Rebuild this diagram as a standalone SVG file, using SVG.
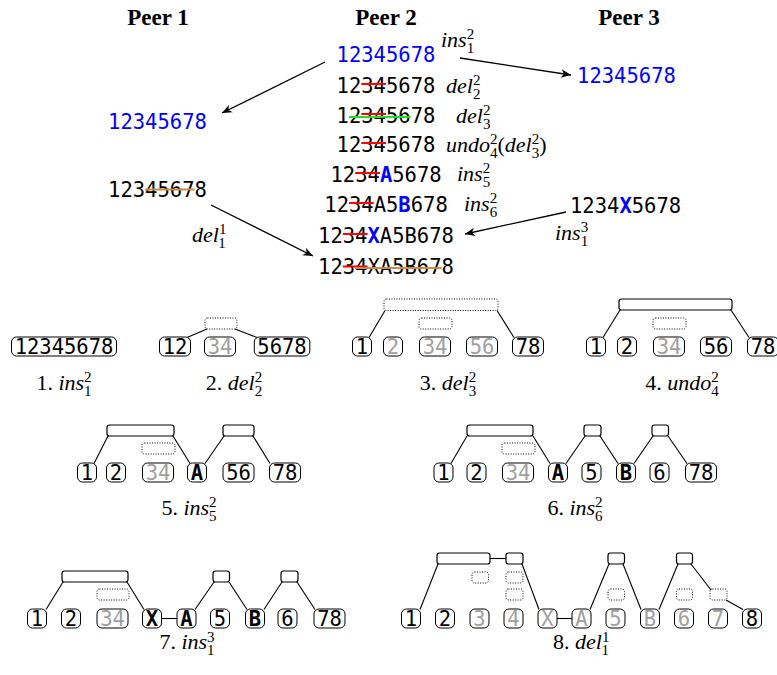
<svg xmlns="http://www.w3.org/2000/svg" width="777" height="675" viewBox="0 0 777 675">
<style>
.hd{font-family:"Liberation Serif","Times New Roman",serif;font-weight:bold;font-size:23px;text-anchor:middle;fill:#000}
.mono{font-family:"DejaVu Sans Mono","Liberation Mono",monospace;font-size:20.5px;fill:#000}
.blue{fill:#0000ff}
.bl{fill:#0000ff;font-weight:bold}
.cap{font-family:"Liberation Serif","Times New Roman",serif;font-size:22px;fill:#000}
.it{font-style:italic}
.sc{font-size:15px;font-style:normal}
.mid{text-anchor:middle}
.red{stroke:#ff0000;stroke-width:2}
.grn{stroke:#22dd22;stroke-width:2}
.brn{stroke:#cc8a48;stroke-width:2.2}
.arr line{stroke:#000;stroke-width:1.3;marker-end:url(#ah)}
.nd rect{fill:#fff;stroke:#000;stroke-width:1}
.nd text{font-family:"DejaVu Sans Mono","Liberation Mono",monospace;font-size:20.5px;text-anchor:middle;fill:#000}
.nd text.g{fill:#a0a0a0}
.nd text.b{font-weight:bold}
.bar{fill:#fff;stroke:#000;stroke-width:1.2}
.dot{fill:none;stroke:#000;stroke-width:1;stroke-dasharray:1 1.5}
.edges line{stroke:#000;stroke-width:1.1}
</style>
<defs>
<marker id="ah" markerUnits="userSpaceOnUse" markerWidth="12" markerHeight="10" viewBox="-11 -5 12 10" refX="0" refY="0" orient="auto">
<path d="M0,0 L-10,-4.2 L-7,0 L-10,4.2 Z" fill="#000"/>
</marker>
</defs>

<!-- headers -->
<g id="headers">
<text class="hd" x="158" y="25">Peer 1</text>
<text class="hd" x="386" y="25">Peer 2</text>
<text class="hd" x="629" y="25">Peer 3</text>
</g>

<!-- Peer 2 history -->
<g id="peer2">
<text class="mono blue" x="336.6" y="62">12345678</text>
<text class="cap it" x="441" y="47">ins<tspan class="sc" dy="-8">2</tspan><tspan class="sc" dx="-7.5" dy="14">1</tspan></text>

<text class="mono" x="336.6" y="93">12345678</text>
<line class="red" x1="361.3" y1="84" x2="386" y2="84"/>
<text class="cap it" x="446" y="93">del<tspan class="sc" dy="-8">2</tspan><tspan class="sc" dx="-7.5" dy="14">2</tspan></text>

<text class="mono" x="336.6" y="123">12345678</text>
<line class="red" x1="361.3" y1="114" x2="386" y2="114"/>
<line class="grn" x1="348.9" y1="117" x2="410.6" y2="117"/>
<text class="cap it" x="456" y="123">del<tspan class="sc" dy="-8">2</tspan><tspan class="sc" dx="-7.5" dy="14">3</tspan></text>

<text class="mono" x="336.6" y="152">12345678</text>
<line class="red" x1="361.3" y1="143" x2="386" y2="143"/>
<text class="cap it" x="446" y="152">undo<tspan class="sc" dy="-8">2</tspan><tspan class="sc" dx="-7.5" dy="14">4</tspan><tspan dy="-6" font-style="normal">(</tspan>del<tspan class="sc" dy="-8">2</tspan><tspan class="sc" dx="-7.5" dy="14">3</tspan><tspan dy="-6" font-style="normal">)</tspan></text>

<text class="mono" x="330.5" y="182">1234<tspan class="bl">A</tspan>5678</text>
<line class="red" x1="355.2" y1="173" x2="379.9" y2="173"/>
<text class="cap it" x="457" y="181">ins<tspan class="sc" dy="-8">2</tspan><tspan class="sc" dx="-7.5" dy="14">5</tspan></text>

<text class="mono" x="324.3" y="212">1234A5<tspan class="bl">B</tspan>678</text>
<line class="red" x1="349" y1="203" x2="373.7" y2="203"/>
<text class="cap it" x="464" y="211">ins<tspan class="sc" dy="-8">2</tspan><tspan class="sc" dx="-7.5" dy="14">6</tspan></text>

<text class="mono" x="318.1" y="243">1234<tspan class="bl">X</tspan>A5B678</text>
<line class="red" x1="342.8" y1="234" x2="367.5" y2="234"/>

<text class="mono" x="318.1" y="274">1234XA5B678</text>
<line class="red" x1="342.8" y1="266.5" x2="367.5" y2="266.5"/>
<line class="brn" x1="355.1" y1="268" x2="441.5" y2="268"/>
</g>

<!-- Peer 1 -->
<g id="peer1">
<text class="mono blue" x="108.1" y="129">12345678</text>
<text class="mono" x="108.1" y="197">12345678</text>
<line class="brn" x1="145.1" y1="189.5" x2="194.5" y2="189.5"/>
<text class="cap it" x="192" y="242">del<tspan class="sc" dy="-8">1</tspan><tspan class="sc" dx="-7.5" dy="14">1</tspan></text>
</g>

<!-- Peer 3 -->
<g id="peer3">
<text class="mono blue" x="577.1" y="83">12345678</text>
<text class="mono" x="570" y="213">1234<tspan class="bl">X</tspan>5678</text>
<text class="cap it" x="555" y="240">ins<tspan class="sc" dy="-8">3</tspan><tspan class="sc" dx="-7.5" dy="14">1</tspan></text>
</g>

<!-- arrows -->
<g id="arrows" class="arr">
<line x1="325" y1="62" x2="222" y2="113"/>
<line x1="460" y1="58" x2="571" y2="75"/>
<line x1="211" y1="205" x2="313" y2="256"/>
<line x1="566" y1="212" x2="465" y2="234"/>
</g>

<!-- tree connectors -->
<g id="edges" class="edges">
<line x1="207" y1="329" x2="187" y2="337.5"/>
<line x1="235" y1="329" x2="257" y2="337.5"/>
<line x1="385" y1="310.5" x2="369" y2="337.5"/>
<line x1="497" y1="310.5" x2="514" y2="337.5"/>
<line x1="620" y1="310" x2="603" y2="337.5"/>
<line x1="731" y1="310" x2="749" y2="337.5"/>
<line x1="108" y1="436" x2="94" y2="463.5"/>
<line x1="173" y1="436" x2="190" y2="463.5"/>
<line x1="224" y1="436" x2="205" y2="463.5"/>
<line x1="253" y1="436" x2="270" y2="463.5"/>
<line x1="467" y1="436" x2="451" y2="463.5"/>
<line x1="533" y1="436" x2="550" y2="463.5"/>
<line x1="585" y1="436" x2="566" y2="463.5"/>
<line x1="600" y1="436" x2="618" y2="463.5"/>
<line x1="653" y1="436" x2="634" y2="463.5"/>
<line x1="668" y1="436" x2="687" y2="463.5"/>
<line x1="63" y1="582" x2="46" y2="609.5"/>
<line x1="127" y1="582" x2="144" y2="609.5"/>
<line x1="214" y1="582" x2="195" y2="609.5"/>
<line x1="229" y1="582" x2="247" y2="609.5"/>
<line x1="282" y1="582" x2="264" y2="609.5"/>
<line x1="297" y1="582" x2="315" y2="609.5"/>
<line x1="161.5" y1="618.5" x2="177" y2="618.5"/>
<line x1="438" y1="564" x2="420" y2="609.5"/>
<line x1="490" y1="558.5" x2="506" y2="558.5"/>
<line x1="522" y1="564" x2="539" y2="609.5"/>
<line x1="556.5" y1="618.5" x2="572.5" y2="618.5"/>
<line x1="609" y1="564" x2="590" y2="609.5"/>
<line x1="623" y1="564" x2="641" y2="609.5"/>
<line x1="678" y1="564" x2="659" y2="609.5"/>
<line x1="691" y1="564" x2="711" y2="590"/>
<line x1="726" y1="600" x2="743" y2="609.5"/>
</g>

<!-- inner (list) nodes -->
<g id="inner">
<rect class="dot" x="205" y="318" width="32" height="11" rx="2.5"/>
<rect class="dot" x="384" y="299" width="114" height="11.5" rx="2.5"/>
<rect class="dot" x="419" y="318" width="33" height="11" rx="2.5"/>
<rect class="bar" x="619" y="299" width="113" height="11" rx="2.5"/>
<rect class="dot" x="653" y="318" width="33" height="11" rx="2.5"/>
<rect class="bar" x="107" y="425" width="67" height="11" rx="2.5"/>
<rect class="dot" x="142" y="443" width="33" height="11" rx="2.5"/>
<rect class="bar" x="223" y="425" width="31" height="11" rx="2.5"/>
<rect class="bar" x="467" y="425" width="66" height="11" rx="2.5"/>
<rect class="dot" x="502" y="443" width="33" height="11" rx="2.5"/>
<rect class="bar" x="584" y="425" width="17" height="11" rx="2.5"/>
<rect class="bar" x="652" y="425" width="16.5" height="11" rx="2.5"/>
<rect class="bar" x="62" y="571" width="66" height="11" rx="2.5"/>
<rect class="dot" x="97" y="589" width="32" height="11" rx="2.5"/>
<rect class="bar" x="213" y="571" width="16.5" height="11" rx="2.5"/>
<rect class="bar" x="281" y="571" width="17" height="11" rx="2.5"/>
<rect class="bar" x="437" y="553" width="53" height="11" rx="2.5"/>
<rect class="bar" x="506" y="553" width="17" height="11" rx="2.5"/>
<rect class="dot" x="472" y="572" width="16.5" height="11" rx="2.5"/>
<rect class="dot" x="506" y="572" width="17" height="11" rx="2.5"/>
<rect class="dot" x="506" y="589" width="17" height="11" rx="2.5"/>
<rect class="bar" x="608" y="553" width="16.5" height="11" rx="2.5"/>
<rect class="dot" x="608" y="589" width="16.5" height="11" rx="2.5"/>
<rect class="bar" x="676.5" y="553" width="16" height="11" rx="2.5"/>
<rect class="dot" x="676.5" y="589" width="16" height="11" rx="2.5"/>
<rect class="dot" x="710" y="589" width="17" height="11" rx="2.5"/>
</g>

<g id="t1" class="nd">
<rect x="11.5" y="337" width="105" height="19" rx="5"/><text x="64" y="354">12345678</text>
</g>
<g id="t2" class="nd">
<rect x="159.5" y="337" width="31" height="19" rx="5"/><text x="175" y="354">12</text>
<rect x="204.5" y="337" width="31" height="19" rx="5"/><text class="g" x="220" y="354">34</text>
<rect x="254.3" y="337" width="55.5" height="19" rx="5"/><text x="282" y="354">5678</text>
</g>
<g id="t3" class="nd">
<rect x="352.5" y="337" width="19" height="19" rx="5"/><text x="362" y="354">1</text>
<rect x="383.5" y="337" width="19" height="19" rx="5"/><text class="g" x="393" y="354">2</text>
<rect x="419.5" y="337" width="31" height="19" rx="5"/><text class="g" x="435" y="354">34</text>
<rect x="466.5" y="337" width="31" height="19" rx="5"/><text class="g" x="482" y="354">56</text>
<rect x="512.5" y="337" width="31" height="19" rx="5"/><text x="528" y="354">78</text>
</g>
<g id="t4" class="nd">
<rect x="586.5" y="337" width="19" height="19" rx="5"/><text x="596" y="354">1</text>
<rect x="617.5" y="337" width="19" height="19" rx="5"/><text x="627" y="354">2</text>
<rect x="653.5" y="337" width="31" height="19" rx="5"/><text class="g" x="669" y="354">34</text>
<rect x="700.5" y="337" width="31" height="19" rx="5"/><text x="716" y="354">56</text>
<rect x="747.5" y="337" width="31" height="19" rx="5"/><text x="763" y="354">78</text>
</g>
<g id="t5" class="nd">
<rect x="77.5" y="463" width="19" height="19" rx="5"/><text x="87" y="480">1</text>
<rect x="106.5" y="463" width="19" height="19" rx="5"/><text x="116" y="480">2</text>
<rect x="142.5" y="463" width="31" height="19" rx="5"/><text class="g" x="158" y="480">34</text>
<rect x="187.5" y="463" width="19" height="19" rx="5"/><text class="b" x="197" y="480">A</text>
<rect x="223" y="463" width="31" height="19" rx="5"/><text x="238.5" y="480">56</text>
<rect x="269.5" y="463" width="31" height="19" rx="5"/><text x="285" y="480">78</text>
</g>
<g id="t6" class="nd">
<rect x="434" y="463" width="19" height="19" rx="5"/><text x="443.5" y="480">1</text>
<rect x="467" y="463" width="19" height="19" rx="5"/><text x="476.5" y="480">2</text>
<rect x="502.5" y="463" width="31" height="19" rx="5"/><text class="g" x="518" y="480">34</text>
<rect x="548.5" y="463" width="19" height="19" rx="5"/><text class="b" x="558" y="480">A</text>
<rect x="582" y="463" width="19" height="19" rx="5"/><text x="591.5" y="480">5</text>
<rect x="616.5" y="463" width="19" height="19" rx="5"/><text class="b" x="626" y="480">B</text>
<rect x="650" y="463" width="19" height="19" rx="5"/><text x="659.5" y="480">6</text>
<rect x="685.5" y="463" width="31" height="19" rx="5"/><text x="701" y="480">78</text>
</g>
<g id="t7" class="nd">
<rect x="27.5" y="609" width="19" height="19" rx="5"/><text x="37" y="626">1</text>
<rect x="61.5" y="609" width="19" height="19" rx="5"/><text x="71" y="626">2</text>
<rect x="97" y="609" width="31" height="19" rx="5"/><text class="g" x="112.5" y="626">34</text>
<rect x="142.5" y="609" width="19" height="19" rx="5"/><text class="b" x="152" y="626">X</text>
<rect x="177" y="609" width="19" height="19" rx="5"/><text class="b" x="186.5" y="626">A</text>
<rect x="210.5" y="609" width="19" height="19" rx="5"/><text x="220" y="626">5</text>
<rect x="245.5" y="609" width="19" height="19" rx="5"/><text class="b" x="255" y="626">B</text>
<rect x="278" y="609" width="19" height="19" rx="5"/><text x="287.5" y="626">6</text>
<rect x="314" y="609" width="31" height="19" rx="5"/><text x="329.5" y="626">78</text>
</g>
<g id="t8" class="nd">
<rect x="401.5" y="609" width="19" height="19" rx="5"/><text x="411" y="626">1</text>
<rect x="435.5" y="609" width="19" height="19" rx="5"/><text x="445" y="626">2</text>
<rect x="470" y="609" width="19" height="19" rx="5"/><text class="g" x="479.5" y="626">3</text>
<rect x="504" y="609" width="19" height="19" rx="5"/><text class="g" x="513.5" y="626">4</text>
<rect x="538" y="609" width="19" height="19" rx="5"/><text class="g" x="547.5" y="626">X</text>
<rect x="572" y="609" width="19" height="19" rx="5"/><text class="g" x="581.5" y="626">A</text>
<rect x="606" y="609" width="19" height="19" rx="5"/><text class="g" x="615.5" y="626">5</text>
<rect x="640.5" y="609" width="19" height="19" rx="5"/><text class="g" x="650" y="626">B</text>
<rect x="674.5" y="609" width="19" height="19" rx="5"/><text class="g" x="684" y="626">6</text>
<rect x="708.5" y="609" width="19" height="19" rx="5"/><text class="g" x="718" y="626">7</text>
<rect x="742.5" y="609" width="19" height="19" rx="5"/><text x="752" y="626">8</text>
</g>

<g id="captions">
<text class="cap mid" x="64" y="390">1. <tspan class="it">ins</tspan><tspan class="sc" dy="-8">2</tspan><tspan class="sc" dx="-7.5" dy="14">1</tspan></text>
<text class="cap mid" x="234" y="390">2. <tspan class="it">del</tspan><tspan class="sc" dy="-8">2</tspan><tspan class="sc" dx="-7.5" dy="14">2</tspan></text>
<text class="cap mid" x="448" y="390">3. <tspan class="it">del</tspan><tspan class="sc" dy="-8">2</tspan><tspan class="sc" dx="-7.5" dy="14">3</tspan></text>
<text class="cap mid" x="682" y="390">4. <tspan class="it">undo</tspan><tspan class="sc" dy="-8">2</tspan><tspan class="sc" dx="-7.5" dy="14">4</tspan></text>
<text class="cap mid" x="189" y="515">5. <tspan class="it">ins</tspan><tspan class="sc" dy="-8">2</tspan><tspan class="sc" dx="-7.5" dy="14">5</tspan></text>
<text class="cap mid" x="575" y="515">6. <tspan class="it">ins</tspan><tspan class="sc" dy="-8">2</tspan><tspan class="sc" dx="-7.5" dy="14">6</tspan></text>
<text class="cap mid" x="187" y="649">7. <tspan class="it">ins</tspan><tspan class="sc" dy="-7">3</tspan><tspan class="sc" dx="-7.5" dy="13">1</tspan></text>
<text class="cap mid" x="581" y="649">8. <tspan class="it">del</tspan><tspan class="sc" dy="-7">1</tspan><tspan class="sc" dx="-7.5" dy="13">1</tspan></text>
</g>
</svg>
